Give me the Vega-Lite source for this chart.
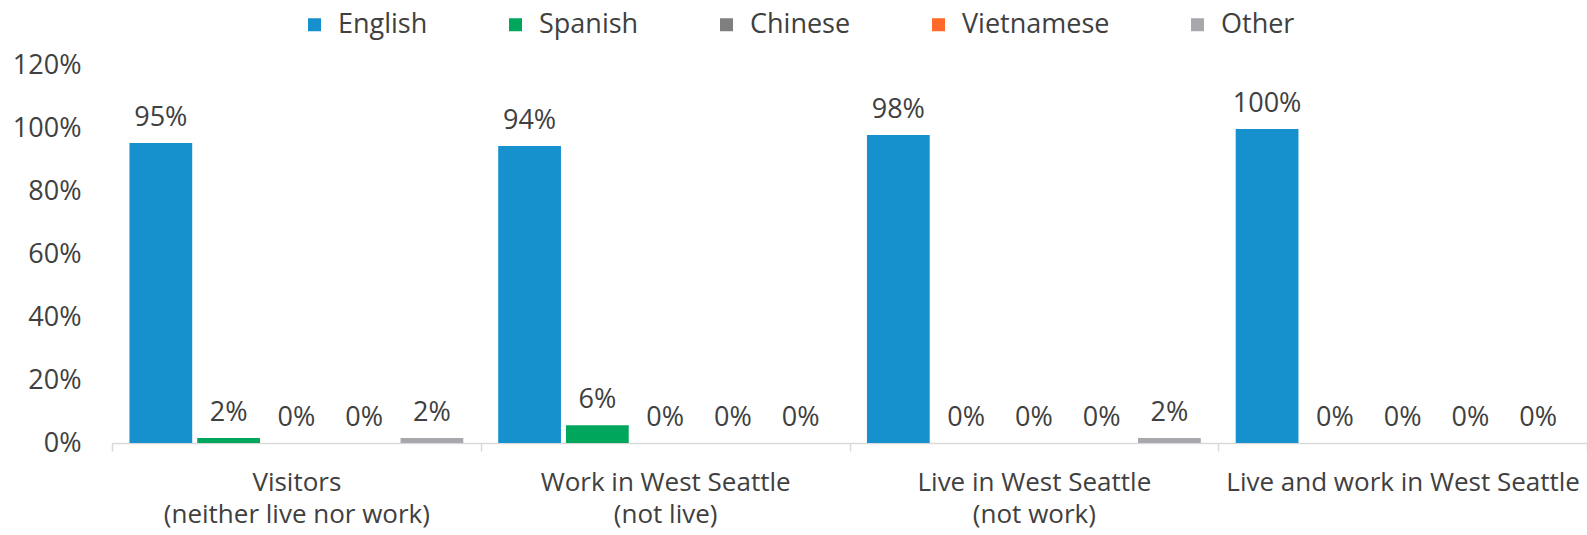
{
  "$schema": "https://vega.github.io/schema/vega-lite/v6.json",
  "autosize": "none",
  "width": 1475,
  "height": 378,
  "padding": {"left": 112, "top": 65, "right": 0, "bottom": 92},
  "background": "white",
  "config": {
    "view": {"stroke": null},
    "font": "Open Sans",
    "text": {"font": "Open Sans"}
  },
  "data": {
    "values": [
      {"group": "Visitors\n(neither live nor work)", "language": "English", "share": 0.952},
      {"group": "Visitors\n(neither live nor work)", "language": "Spanish", "share": 0.016},
      {"group": "Visitors\n(neither live nor work)", "language": "Chinese", "share": 0},
      {"group": "Visitors\n(neither live nor work)", "language": "Vietnamese", "share": 0},
      {"group": "Visitors\n(neither live nor work)", "language": "Other", "share": 0.016},
      {"group": "Work in West Seattle\n(not live)", "language": "English", "share": 0.943},
      {"group": "Work in West Seattle\n(not live)", "language": "Spanish", "share": 0.056},
      {"group": "Work in West Seattle\n(not live)", "language": "Chinese", "share": 0},
      {"group": "Work in West Seattle\n(not live)", "language": "Vietnamese", "share": 0},
      {"group": "Work in West Seattle\n(not live)", "language": "Other", "share": 0},
      {"group": "Live in West Seattle\n(not work)", "language": "English", "share": 0.978},
      {"group": "Live in West Seattle\n(not work)", "language": "Spanish", "share": 0},
      {"group": "Live in West Seattle\n(not work)", "language": "Chinese", "share": 0},
      {"group": "Live in West Seattle\n(not work)", "language": "Vietnamese", "share": 0},
      {"group": "Live in West Seattle\n(not work)", "language": "Other", "share": 0.016},
      {"group": "Live and work in West Seattle", "language": "English", "share": 0.997},
      {"group": "Live and work in West Seattle", "language": "Spanish", "share": 0},
      {"group": "Live and work in West Seattle", "language": "Chinese", "share": 0},
      {"group": "Live and work in West Seattle", "language": "Vietnamese", "share": 0},
      {"group": "Live and work in West Seattle", "language": "Other", "share": 0}
    ]
  },
  "encoding": {
    "x": {
      "field": "group",
      "type": "nominal",
      "sort": null,
      "scale": {"paddingInner": 0, "paddingOuter": 0},
      "axis": {
        "title": null,
        "labelAngle": 0,
        "labelExpr": "isValid(datum.value) ? split(datum.value, '\\n') : ''",
        "labelFontSize": 26,
        "labelColor": "#404040",
        "labelLineHeight": 32,
        "labelPadding": 18,
        "labelBaseline": "top",
        "labelLimit": 0,
        "labelOverlap": false,
        "tickBand": "extent",
        "tickSize": 8,
        "tickColor": "#D9D9D9",
        "tickWidth": 1.5,
        "domainColor": "#D9D9D9",
        "domainWidth": 1.5,
        "grid": false
      }
    },
    "xOffset": {
      "field": "language",
      "type": "nominal",
      "sort": ["English", "Spanish", "Chinese", "Vietnamese", "Other"],
      "scale": {"paddingInner": 0.074, "paddingOuter": 0.2575}
    },
    "y": {
      "field": "share",
      "type": "quantitative",
      "scale": {"domain": [0, 1.2], "nice": false},
      "axis": {
        "title": null,
        "values": [0, 0.2, 0.4, 0.6, 0.8, 1.0, 1.2],
        "format": ".0%",
        "labelFontSize": 27,
        "labelColor": "#404040",
        "labelPadding": 31,
        "domain": false,
        "ticks": false,
        "grid": false
      }
    }
  },
  "layer": [
    {
      "mark": {"type": "bar"},
      "encoding": {
        "color": {
          "field": "language",
          "type": "nominal",
          "sort": ["English", "Spanish", "Chinese", "Vietnamese", "Other"],
          "scale": {
            "domain": ["English", "Spanish", "Chinese", "Vietnamese", "Other"],
            "range": ["#1790CE", "#00A65B", "#7F7F7F", "#FF6A2A", "#A8A8AC"]
          },
          "legend": {
            "title": null,
            "orient": "none",
            "direction": "horizontal",
            "legendX": 189,
            "legendY": -54,
            "symbolType": "square",
            "symbolSize": 169,
            "symbolStrokeWidth": 0,
            "labelFontSize": 27,
            "labelColor": "#404040",
            "labelOffset": 10,
            "columnPadding": 74
          }
        }
      }
    },
    {
      "mark": {"type": "text", "baseline": "alphabetic", "dy": -17, "fontSize": 27, "color": "#404040", "font": "Open Sans"},
      "encoding": {
        "text": {"field": "share", "type": "quantitative", "format": ".0%"}
      }
    }
  ]
}
